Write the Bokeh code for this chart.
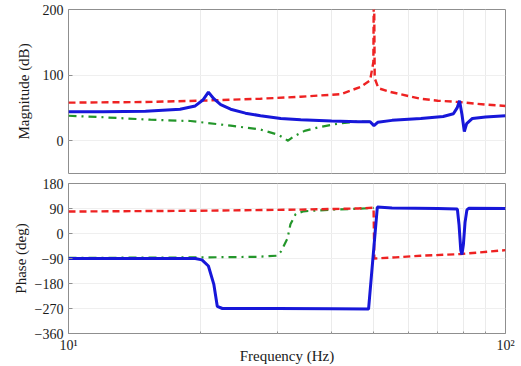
from bokeh.plotting import figure
from bokeh.layouts import column
from bokeh.models import Range1d, FixedTicker
from bokeh.embed import file_html
from bokeh.resources import INLINE

# ---- magnitude curves (Hz, dB) ----
blue_mag_f = [10, 12, 15, 18, 19.5, 20.3, 20.9, 21.5, 22.3, 23.5, 25.4, 27.5, 30.6, 34, 40, 46, 49,
              50, 51, 55, 64, 72, 76, 77.5, 78.5, 79.5, 80.5, 81.5, 84, 90, 100]
blue_mag = [44, 44, 45, 48, 53, 62, 74, 64, 55, 48, 42, 38, 34, 32, 30, 29, 29,
            23, 28, 31, 34, 37, 41, 50, 61, 40, 14, 26, 34, 36, 38]

red_mag_f = [10, 15, 20, 27.5, 34, 42, 46.6, 49, 49.85, 49.95, 50.05, 50.2, 51.2, 54, 60, 64, 70, 78, 90, 100]
red_mag = [58, 59, 61, 64, 67, 71, 82, 92, 120, 220, 220, 95, 80, 75, 68, 64, 61, 59, 55, 53]

green_mag_f = [10, 11.8, 15.4, 19, 23.5, 27.5, 30.2, 31.8, 32.7, 34.7, 37.7, 41.5, 45.5, 49]
green_mag = [38, 36, 32, 30, 23, 17, 9, 0, 6, 15, 21, 26, 29, 29]

# ---- phase curves (Hz, deg) ----
blue_ph_f = [10, 19.5, 20.2, 20.9, 21.5, 21.9, 22.5, 30, 40, 48.6, 50.9, 55, 70, 77.6,
             78.3, 79.0, 79.5, 80.1, 80.8, 81.6, 82.5, 100]
blue_ph = [-90, -90, -95, -117, -182, -262, -270, -270, -271, -272, 95, 92, 90, 88,
           30, -60, -76, -40, 40, 85, 91, 90]

red_ph_f = [10, 20, 34, 46, 49.9, 50.1, 56, 64, 79, 100]
red_ph = [79, 82, 86, 90, 93, -90, -86, -80, -74, -60]

green_ph_f = [10, 20, 27, 30, 30.6, 31.7, 32.2, 33.1, 34.5, 40, 46, 50]
green_ph = [-88, -86, -84, -80, -66, -18, 33, 70, 80, 86, 89, 92]

x_major = [10, 100]
x_minor = [20, 30, 40, 50, 60, 70, 80, 90]
mag_ticks = [0, 100, 200]
phase_ticks = [-360, -270, -180, -90, 0, 90, 180]

RED = "#ee2222"
GREEN = "#23962a"
BLUE = "#1717d9"
FONT = "'Liberation Serif', 'Times New Roman', serif"
FRAME = "#8f8f8f"


def style(p, yticks, ylabel, label_standoff):
    p.outline_line_color = FRAME
    p.outline_line_width = 1
    p.background_fill_color = "white"
    p.border_fill_color = "white"

    p.xaxis.ticker = FixedTicker(ticks=x_major, minor_ticks=x_minor)
    p.xgrid.ticker = FixedTicker(ticks=x_minor)
    p.xgrid.grid_line_color = "#ebebeb"
    p.yaxis.ticker = FixedTicker(ticks=yticks)
    p.ygrid.grid_line_color = "#efefef"

    for ax in (p.xaxis[0], p.yaxis[0]):
        ax.axis_line_color = None
        ax.major_tick_in = 4
        ax.major_tick_out = 0
        ax.minor_tick_in = 2
        ax.minor_tick_out = 0
        ax.major_tick_line_color = FRAME
        ax.minor_tick_line_color = FRAME
        ax.major_label_text_font = FONT
        ax.major_label_text_font_size = "14px"
        ax.major_label_text_color = "#1a1a1a"
        ax.axis_label_text_font = FONT
        ax.axis_label_text_font_size = "15px"
        ax.axis_label_text_font_style = "normal"
        ax.axis_label_text_color = "#1a1a1a"

    p.yaxis.axis_label = ylabel
    p.yaxis.major_label_standoff = 5
    p.yaxis.axis_label_standoff = label_standoff


# ---- magnitude panel ----
p1 = figure(width=521, height=178, x_axis_type="log", output_backend="svg",
            toolbar_location=None, x_range=Range1d(10, 100), y_range=Range1d(-50, 200),
            min_border_left=68, min_border_right=16, min_border_top=9, min_border_bottom=5)
style(p1, mag_ticks, "Magnitude (dB)", 8)
p1.xaxis.visible = False

p1.line(green_mag_f, green_mag, line_color=GREEN, line_width=2.2, line_dash="8 5 2 5")
p1.line(red_mag_f, red_mag, line_color=RED, line_width=2.4, line_dash="7 4")
p1.line(blue_mag_f, blue_mag, line_color=BLUE, line_width=3)

# ---- phase panel ----
p2 = figure(width=521, height=188, x_axis_type="log", output_backend="svg",
            toolbar_location=None, x_range=Range1d(10, 100), y_range=Range1d(-360, 180),
            min_border_left=68, min_border_right=16, min_border_top=5, min_border_bottom=33)
style(p2, phase_ticks, "Phase (deg)", 3)
p2.xaxis.major_label_overrides = {10: "10¹", 100: "10²"}
p2.xaxis.major_label_standoff = 4
p2.xaxis.axis_label = "Frequency (Hz)"
p2.xaxis.axis_label_standoff = -8

p2.line(green_ph_f, green_ph, line_color=GREEN, line_width=2.2, line_dash="8 5 2 5")
p2.line(red_ph_f, red_ph, line_color=RED, line_width=2.4, line_dash="7 4")
p2.line(blue_ph_f, blue_ph, line_color=BLUE, line_width=3)

layout = column(p1, p2, spacing=0)
open("out.html", "w").write(file_html(layout, INLINE))
